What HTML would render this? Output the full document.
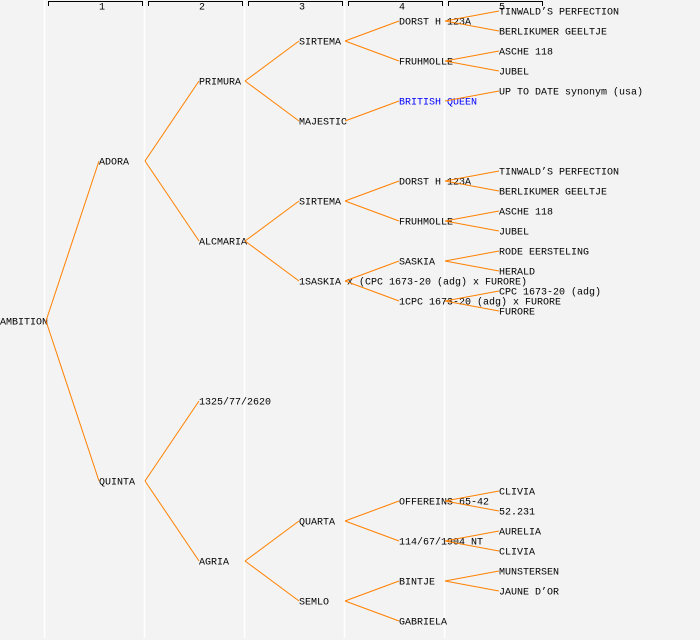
<!DOCTYPE html>
<html><head><meta charset="utf-8"><style>
html,body{margin:0;padding:0;background:#f3f3f3;}
svg{display:block;}
text{font-family:"Liberation Mono","DejaVu Sans Mono",monospace;font-size:10px;fill:#000;dominant-baseline:middle;}
</style></head><body>
<svg width="700" height="640" viewBox="0 0 700 640" xmlns="http://www.w3.org/2000/svg">
<rect width="700" height="640" fill="#f3f3f3"/>
<g stroke="#ffffff" stroke-width="1.5">
<line x1="44.5" y1="0" x2="44.5" y2="638"/>
<line x1="144.5" y1="0" x2="144.5" y2="638"/>
<line x1="244.5" y1="0" x2="244.5" y2="638"/>
<line x1="344.5" y1="0" x2="344.5" y2="638"/>
<line x1="444.5" y1="0" x2="444.5" y2="638"/>
</g>
<g stroke="#000" stroke-width="1" fill="none">
<path d="M48.5 6V1.5H142.5V6"/>
<path d="M148.5 6V1.5H242.5V6"/>
<path d="M248.5 6V1.5H342.5V6"/>
<path d="M348.5 6V1.5H442.5V6"/>
<path d="M448.5 6V1.5H542.5V6"/>
</g>
<g style="font-size:9px" text-anchor="middle">
<text x="102" y="7">1</text><text x="202" y="7">2</text><text x="302" y="7">3</text><text x="402" y="7">4</text><text x="502" y="7">5</text>
</g>
<g>
<text x="0" y="322">AMBITION</text>
<text x="99" y="162">ADORA</text>
<text x="99" y="482">QUINTA</text>
<text x="199" y="82">PRIMURA</text>
<text x="199" y="242">ALCMARIA</text>
<text x="199" y="402">1325/77/2620</text>
<text x="199" y="562">AGRIA</text>
<text x="299" y="42">SIRTEMA</text>
<text x="299" y="122">MAJESTIC</text>
<text x="299" y="202">SIRTEMA</text>
<text x="299" y="282">1SASKIA x (CPC 1673-20 (adg) x FURORE)</text>
<text x="299" y="522">QUARTA</text>
<text x="299" y="602">SEMLO</text>
<text x="399" y="22">DORST H 123A</text>
<text x="399" y="62">FRUHMOLLE</text>
<text x="399" y="102" style="fill:#0000ff">BRITISH QUEEN</text>
<text x="399" y="182">DORST H 123A</text>
<text x="399" y="222">FRUHMOLLE</text>
<text x="399" y="262">SASKIA</text>
<text x="399" y="302">1CPC 1673-20 (adg) x FURORE</text>
<text x="399" y="502">OFFEREINS 65-42</text>
<text x="399" y="542">114/67/1904 NT</text>
<text x="399" y="582">BINTJE</text>
<text x="399" y="622">GABRIELA</text>
<text x="499" y="12">TINWALD’S PERFECTION</text>
<text x="499" y="32">BERLIKUMER GEELTJE</text>
<text x="499" y="52">ASCHE 118</text>
<text x="499" y="72">JUBEL</text>
<text x="499" y="92">UP TO DATE synonym (usa)</text>
<text x="499" y="172">TINWALD’S PERFECTION</text>
<text x="499" y="192">BERLIKUMER GEELTJE</text>
<text x="499" y="212">ASCHE 118</text>
<text x="499" y="232">JUBEL</text>
<text x="499" y="252">RODE EERSTELING</text>
<text x="499" y="272">HERALD</text>
<text x="499" y="292">CPC 1673-20 (adg)</text>
<text x="499" y="312">FURORE</text>
<text x="499" y="492">CLIVIA</text>
<text x="499" y="512">52.231</text>
<text x="499" y="532">AURELIA</text>
<text x="499" y="552">CLIVIA</text>
<text x="499" y="572">MUNSTERSEN</text>
<text x="499" y="592">JAUNE D’OR</text>
</g>
<g stroke="#ff8000" stroke-width="1" fill="none">
<path d="M46 321L99 161M46 321L99 481"/>
<path d="M145 161L199 81M145 161L199 241M145 481L199 401M145 481L199 561"/>
<path d="M245 81L299 41M245 81L299 121M245 241L299 201M245 241L299 281M245 561L299 521M245 561L299 601"/>
<path d="M345 41L399 21M345 41L399 61M345 121L399 101M345 201L399 181M345 201L399 221M345 281L399 261M345 281L399 301M345 521L399 501M345 521L399 541M345 601L399 581M345 601L399 621"/>
<path d="M445 21L499 11M445 21L499 31M445 61L499 51M445 61L499 71M445 101L499 91M445 181L499 171M445 181L499 191M445 221L499 211M445 221L499 231M445 261L499 251M445 261L499 271M445 301L499 291M445 301L499 311M445 501L499 491M445 501L499 511M445 541L499 531M445 541L499 551M445 581L499 571M445 581L499 591"/>
</g>
</svg>
</body></html>
